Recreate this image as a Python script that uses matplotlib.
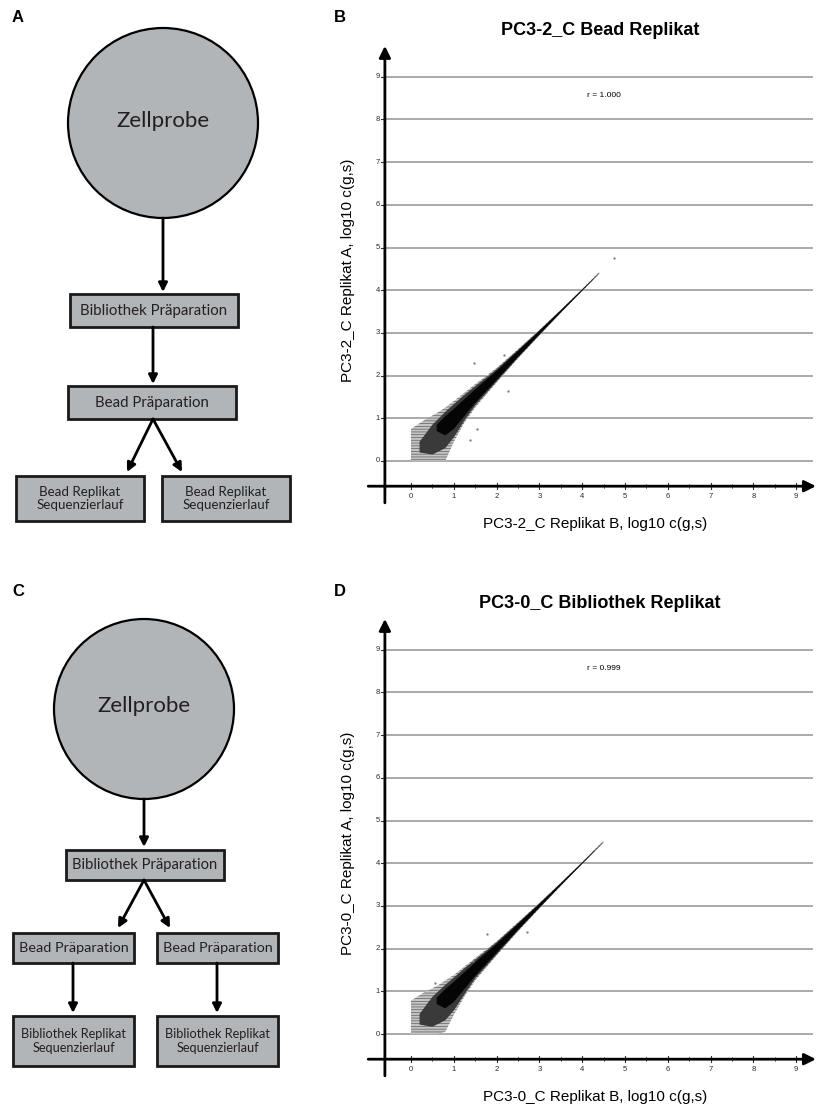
import matplotlib
matplotlib.use("Agg")
import matplotlib.pyplot as plt
from matplotlib.patches import Circle, Rectangle

# ---- data ----
titles = ["PC3-2_C Bead Replikat", "PC3-0_C Bibliothek Replikat"]
xlabels = ["PC3-2_C Replikat B, log10 c(g,s)", "PC3-0_C Replikat B, log10 c(g,s)"]
ylabels = ["PC3-2_C Replikat A, log10 c(g,s)", "PC3-0_C Replikat A, log10 c(g,s)"]
r_values = ["r = 1.000", "r = 0.999"]
ticks = [0, 1, 2, 3, 4, 5, 6, 7, 8, 9]

# point cloud of panel B, read as envelopes (x, lower y, upper y)
outer_x_b = [0, 0.3, 0.6, 0.8, 1.0, 1.25, 1.5, 2.0, 2.5, 3.0, 3.5, 4.0, 4.4]
outer_lo_b = [0, 0, 0, 0, 0.45, 0.9, 1.25, 1.84, 2.4, 2.94, 3.47, 3.985, 4.39]
outer_hi_b = [0.75, 0.95, 1.12, 1.25, 1.4, 1.6, 1.8, 2.18, 2.62, 3.07, 3.54, 4.025, 4.43]
mid_x_b = [0.2, 0.5, 0.8, 1.0, 1.25, 1.5, 2.0, 2.5, 3.0, 3.5, 4.0, 4.38]
mid_lo_b = [0.2, 0.15, 0.3, 0.55, 0.95, 1.3, 1.86, 2.42, 2.95, 3.475, 3.988, 4.37]
mid_hi_b = [0.45, 0.85, 1.15, 1.33, 1.55, 1.75, 2.15, 2.6, 3.06, 3.535, 4.02, 4.39]
core_x_b = [0.6, 0.8, 1.0, 1.5, 2.0, 2.5, 3.0, 3.5, 4.0, 4.25]
core_lo_b = [0.7, 0.6, 0.75, 1.36, 1.9, 2.44, 2.965, 3.482, 3.99, 4.245]
core_hi_b = [0.85, 1.05, 1.22, 1.68, 2.11, 2.575, 3.045, 3.525, 4.013, 4.255]
out_x_b = [4.74, 1.47, 2.27, 1.38, 1.54, 2.17]
out_y_b = [4.75, 2.3, 1.64, 0.49, 0.75, 2.48]

# point cloud of panel D
outer_x_d = [0, 0.3, 0.6, 0.8, 1.0, 1.25, 1.5, 2.0, 2.5, 3.0, 3.5, 4.0, 4.5]
outer_lo_d = [0, 0, 0, 0.05, 0.45, 0.88, 1.25, 1.84, 2.4, 2.94, 3.47, 3.985, 4.49]
outer_hi_d = [0.78, 0.97, 1.12, 1.25, 1.38, 1.58, 1.78, 2.17, 2.62, 3.07, 3.54, 4.025, 4.53]
mid_x_d = [0.2, 0.5, 0.8, 1.0, 1.25, 1.5, 2.0, 2.5, 3.0, 3.5, 4.0, 4.48]
mid_lo_d = [0.22, 0.17, 0.32, 0.55, 0.93, 1.3, 1.86, 2.42, 2.95, 3.475, 3.988, 4.47]
mid_hi_d = [0.47, 0.87, 1.15, 1.32, 1.54, 1.74, 2.15, 2.6, 3.06, 3.535, 4.02, 4.49]
core_x_d = [0.6, 0.8, 1.0, 1.5, 2.0, 2.5, 3.0, 3.5, 4.0, 4.3]
core_lo_d = [0.7, 0.6, 0.75, 1.36, 1.9, 2.44, 2.965, 3.482, 3.99, 4.295]
core_hi_d = [0.85, 1.05, 1.22, 1.68, 2.11, 2.575, 3.045, 3.525, 4.013, 4.305]
out_x_d = [1.78, 2.7, 1.45, 0.55]
out_y_d = [2.35, 2.4, 1.7, 1.2]

# flowchart texts
flow_a = ["Zellprobe", "Bibliothek Präparation", "Bead Präparation",
          "Bead Replikat\nSequenzierlauf", "Bead Replikat\nSequenzierlauf"]
flow_c = ["Zellprobe", "Bibliothek Präparation", "Bead Präparation", "Bead Präparation",
          "Bibliothek Replikat\nSequenzierlauf", "Bibliothek Replikat\nSequenzierlauf"]

W, H = 818, 1108
fig = plt.figure(figsize=(W / 100, H / 100), dpi=100)

# overlay axes in pixel coordinates for flowcharts and panel letters
ov = fig.add_axes([0, 0, 1, 1])
ov.set_xlim(0, W)
ov.set_ylim(H, 0)
ov.axis("off")

GREY = "#b2b5b7"
FFONT = "Lato"


def box(x0, y0, x1, y1, text, size):
    ov.add_patch(Rectangle((x0, y0), x1 - x0, y1 - y0, fc=GREY, ec="#1a1a1a", lw=2))
    ov.text((x0 + x1) / 2, (y0 + y1) / 2, text, ha="center", va="center",
            fontsize=size, family=FFONT, color="#231f20", linespacing=1.15)


def arrow(x0, y0, x1, y1):
    ov.annotate("", xy=(x1, y1), xytext=(x0, y0),
                arrowprops=dict(arrowstyle="-|>", lw=2, color="black",
                                mutation_scale=13, shrinkA=0, shrinkB=0))


# panel A
ov.add_patch(Circle((163, 123), 95, fc=GREY, ec="black", lw=1.6))
ov.text(163, 121, flow_a[0], ha="center", va="center", fontsize=16, family=FFONT, color="#231f20")
arrow(163, 218, 163, 292)
box(70, 294, 238, 327, flow_a[1], 10.8)
arrow(153, 327, 153, 384)
box(68, 386, 236, 419, flow_a[2], 10.8)
arrow(153, 419, 127, 472)
arrow(153, 419, 182, 472)
box(16, 476, 144, 521, flow_a[3], 9.6)
box(162, 476, 290, 521, flow_a[4], 9.6)

# panel C
ov.add_patch(Circle((144, 709), 90, fc=GREY, ec="black", lw=1.6))
ov.text(144, 706, flow_c[0], ha="center", va="center", fontsize=16, family=FFONT, color="#231f20")
arrow(144, 799, 144, 847)
box(66, 850, 224, 880, flow_c[1], 10.6)
arrow(144, 880, 118, 928)
arrow(144, 880, 170, 928)
box(13, 933, 134, 963, flow_c[2], 10.4)
box(157, 933, 278, 963, flow_c[3], 10.4)
arrow(73, 963, 73, 1013)
arrow(217, 963, 217, 1013)
box(13, 1016, 134, 1066, flow_c[4], 9.2)
box(157, 1016, 278, 1066, flow_c[5], 9.2)

for lab, (x, y) in zip("ABCD", [(18, 18), (340, 18), (18, 592), (340, 592)]):
    ov.text(x, y, lab, ha="center", va="center", fontsize=12, fontweight="bold",
            family="Liberation Sans")


def scatter_panel(k, y_off, outer, mid, core, ox, oy):
    x0, sx, y0, sy = 411, 42.8, 461 + y_off, 42.7
    L, R, T, B = 340, 818, 40 + y_off, 540 + y_off
    ax = fig.add_axes([L / W, 1 - B / H, (R - L) / W, (B - T) / H])
    ax.set_xlim((L - x0) / sx, (R - x0) / sx)
    ax.set_ylim((y0 - B) / sy, (y0 - T) / sy)
    ax.axis("off")
    fs = "Liberation Sans"

    ax.hlines(ticks, -0.61, 9.39, color="#9c9c9c", lw=1.2, zorder=1)
    ax.annotate("", xy=(-0.61, 9.72), xytext=(-0.61, -0.98),
                arrowprops=dict(arrowstyle="-|>", lw=2, color="black",
                                mutation_scale=17, shrinkA=0, shrinkB=0), zorder=5)
    ax.annotate("", xy=(9.46, -0.59), xytext=(-1.0, -0.59),
                arrowprops=dict(arrowstyle="-|>", lw=2, color="black",
                                mutation_scale=17, shrinkA=0, shrinkB=0), zorder=5)
    for t in ticks:
        ax.plot([-0.69, -0.61], [t, t], color="#333333", lw=0.8)
        ax.text(-0.72, t, str(t), ha="right", va="center", fontsize=5.5, family=fs, color="#2a2a2a")
        ax.plot([t, t], [-0.52, -0.66], color="#333333", lw=0.8)
        ax.plot([t + 0.5, t + 0.5], [-0.55, -0.63], color="#666666", lw=0.6)
        ax.text(t, -0.84, str(t), ha="center", va="center", fontsize=5.5, family=fs, color="#2a2a2a")

    ax.fill_between(*outer, facecolor="#c4c4c4", edgecolor="#5e5e5e", hatch="------",
                    lw=0, zorder=2)
    ax.fill_between(*mid, facecolor="#3a3a3a", lw=0, zorder=3)
    ax.fill_between(*core, facecolor="#050505", lw=0, zorder=4)
    ax.scatter(ox, oy, s=0.4, color="#777777", zorder=3)

    ax.text(4.5, 8.55, r_values[k], ha="center", va="center", fontsize=6, family=fs)
    ax.text(4.42, 10.09, titles[k], ha="center", va="center", fontsize=13,
            fontweight="bold", family=fs, clip_on=False)
    ax.text(4.3, -1.48, xlabels[k], ha="center", va="center", fontsize=11, family=fs)
    ax.text(-1.47, 4.47, ylabels[k], ha="center", va="center", fontsize=11,
            family=fs, rotation=90)


plt.rcParams["hatch.linewidth"] = 0.5
scatter_panel(0, 0, (outer_x_b, outer_lo_b, outer_hi_b), (mid_x_b, mid_lo_b, mid_hi_b),
              (core_x_b, core_lo_b, core_hi_b), out_x_b, out_y_b)
scatter_panel(1, 573, (outer_x_d, outer_lo_d, outer_hi_d), (mid_x_d, mid_lo_d, mid_hi_d),
              (core_x_d, core_lo_d, core_hi_d), out_x_d, out_y_d)

fig.savefig("out.png", dpi=100)
